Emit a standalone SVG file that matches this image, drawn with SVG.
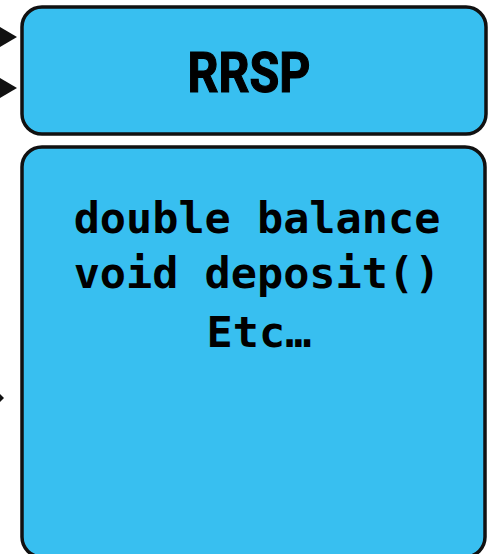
<svg xmlns="http://www.w3.org/2000/svg" width="500" height="554" viewBox="0 0 500 554">
<style>
.box{fill:#38bff0;stroke:#111;stroke-width:3.5}
.mono{font-family:"DejaVu Sans Mono","Liberation Mono",monospace;font-weight:bold;font-size:43.5px;fill:#000;text-anchor:middle}
.title{font-family:Roboto,"Liberation Sans",Arial,sans-serif;font-weight:700;font-size:55px;fill:#000;stroke:#000;stroke-width:1.2;text-anchor:middle}
.head{fill:#111}
</style>
<rect width="500" height="554" fill="#fff"/>
<g id="connectors">
<path class="head" d="M0,27 L17,37 L0,47 Z"/>
<path class="head" d="M0,78 L17,88 L0,98 Z"/>
<path class="head" d="M0,394 L4,398 L0,402 Z"/>
</g>
<g id="title">
<rect class="box" x="22" y="7" width="464" height="127" rx="20"/>
<text class="title" x="249" y="92" textLength="123" lengthAdjust="spacingAndGlyphs">RRSP</text>
</g>
<g id="body">
<rect class="box" x="22" y="147" width="463" height="410" rx="20"/>
<text class="mono" x="257" y="233">double balance</text>
<text class="mono" x="257" y="288">void deposit()</text>
<text class="mono" x="259" y="347">Etc…</text>
</g>
</svg>
